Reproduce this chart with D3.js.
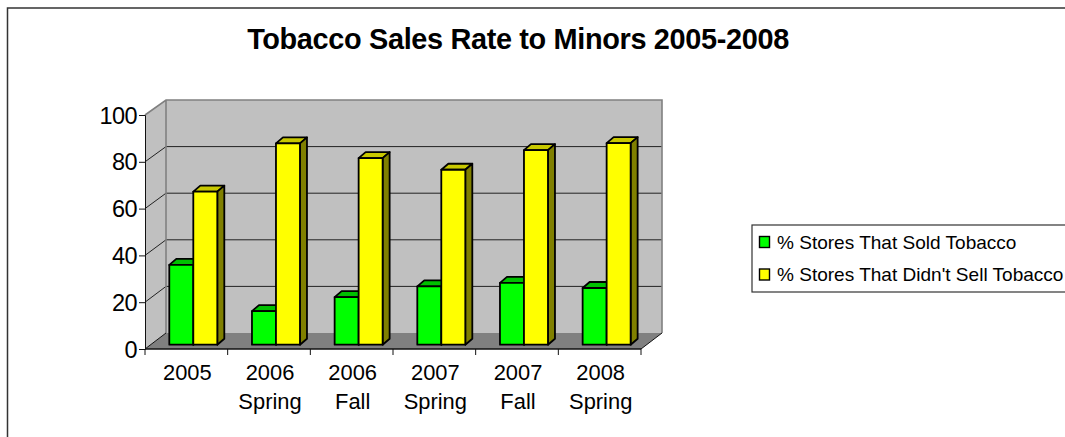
<!DOCTYPE html>
<html>
<head>
<meta charset="utf-8">
<script src="https://cdn.jsdelivr.net/npm/d3@7"></script>
<style>
  html, body { margin: 0; padding: 0; background: #fff; overflow: hidden; }
  text { font-family: "Liberation Sans", Arial, sans-serif; fill: #000; }
</style>
</head>
<body>
<div id="chart"></div>
<script>
var categories = ['2005', '2006 Spring', '2006 Fall', '2007 Spring', '2007 Fall', '2008 Spring'];
var soldValues = [34.2, 14.4, 20.4, 25, 26.5, 24.3];
var notSoldValues = [65.6, 86.3, 80, 75, 83.4, 86.4];
var yTicks = [0, 20, 40, 60, 80, 100];
var seriesNames = ['% Stores That Sold Tobacco', "% Stores That Didn't Sell Tobacco"];
var seriesKeys = ['sold', 'notSold'];

var colors = {
    sold: {front: '#00ff00', top: '#00c000', side: '#008000'},
    notSold: {front: '#ffff00', top: '#c8c800', side: '#808000'}
};

var width = 1065, height = 437;
var svg = d3.select('#chart').append('svg')
    .attr('width', width)
    .attr('height', height)
    .style('display', 'block');

// frame, only top and left are visible in the crop
svg.append('path')
    .attr('d', 'M7.5,' + height + 'V8H' + width)
    .attr('fill', 'none')
    .attr('stroke', '#333')
    .attr('stroke-width', 1.5);

svg.append('text')
    .attr('x', 518)
    .attr('y', 49)
    .attr('text-anchor', 'middle')
    .attr('font-size', 28.9)
    .attr('font-weight', 'bold')
    .attr('letter-spacing', -0.35)
    .text('Tobacco Sales Rate to Minors 2005-2008');

// front plane scales, the wall sits behind by depthX / depthY
var left = 145, right = 641;
var depthX = 21, depthY = 16;
var y = d3.scaleLinear().domain([0, 100]).range([349, 115]);
var yWall = d3.scaleLinear().domain([0, 100]).range([333, 100]);
var yBar = d3.scaleLinear().domain([0, 100]).range([344.7, 111.4]);
var x = d3.scaleBand().domain(categories).range([left, right]);
var xSeries = d3.scaleBand().domain(seriesKeys).range([24.3, 72.3]);
var barDepthX = 7, barDepthY = 6;

var floorY = y(0), wallY = yWall(0), wallTop = yWall(100);

// left wall
svg.append('polygon')
    .attr('points', [[left, floorY], [left + depthX, wallY], [left + depthX, wallTop], [left, y(100)]].join(' '))
    .attr('fill', '#c0c0c0');
// back wall
svg.append('rect')
    .attr('x', left + depthX)
    .attr('y', wallTop)
    .attr('width', right - left)
    .attr('height', wallY - wallTop)
    .attr('fill', '#c0c0c0');
// floor
svg.append('polygon')
    .attr('points', [[left, floorY], [left + depthX, wallY], [right + depthX, wallY], [right, floorY]].join(' '))
    .attr('fill', '#808080');

// gridlines
var grid = svg.append('g').attr('stroke', '#222').attr('stroke-width', 1).attr('fill', 'none');
grid.selectAll('path')
    .data(yTicks.filter(d => d > 0 && d < 100))
    .enter().append('path')
    .attr('d', d => `M${left},${y(d)}L${left + depthX},${yWall(d)}H${right + depthX}`);

// wall outline
svg.append('path')
    .attr('d', `M${left},${y(100)}L${left + depthX},${wallTop}H${right + depthX}V${wallY}M${left + depthX},${wallTop}V${wallY}`)
    .attr('fill', 'none')
    .attr('stroke', '#808080')
    .attr('stroke-width', 1.6);

// floor edge
svg.append('path')
    .attr('d', `M${left},${floorY}L${left + depthX},${wallY}M${right},${floorY}L${right + depthX},${wallY}`)
    .attr('fill', 'none')
    .attr('stroke', '#111')
    .attr('stroke-width', 1);

// bars
var rows = categories.map((c, i) => ({category: c, sold: soldValues[i], notSold: notSoldValues[i]}));
var groups = svg.selectAll('g.cat')
    .data(rows)
    .enter().append('g')
    .attr('class', 'cat')
    .attr('transform', d => `translate(${x(d.category)},0)`);

seriesKeys.forEach(function(key){
    var bar = groups.append('g')
        .attr('stroke', '#000')
        .attr('stroke-width', 1.8)
        .attr('stroke-linejoin', 'round');
    var x0 = xSeries(key), w = xSeries.bandwidth();
    var base = yBar(0);

    bar.append('path')
        .attr('fill', colors[key].top)
        .attr('d', d => `M${x0},${yBar(d[key])}l${barDepthX},${-barDepthY}h${w}l${-barDepthX},${barDepthY}Z`);
    bar.append('path')
        .attr('fill', colors[key].side)
        .attr('d', d => `M${x0 + w},${yBar(d[key])}l${barDepthX},${-barDepthY}V${base - barDepthY}l${-barDepthX},${barDepthY}Z`);
    bar.append('rect')
        .attr('fill', colors[key].front)
        .attr('x', x0)
        .attr('y', d => yBar(d[key]))
        .attr('width', w)
        .attr('height', d => base - yBar(d[key]));
});

// y axis
var yAxis = svg.append('g')
    .attr('transform', `translate(${left},0)`)
    .call(d3.axisLeft(y).tickValues(yTicks).tickSize(6).tickPadding(2));
yAxis.select('.domain').attr('stroke', '#111').attr('stroke-width', 1);
yAxis.selectAll('text').attr('font-size', 23.5).attr('dy', '0.34em').attr('letter-spacing', -0.6);
yAxis.selectAll('line').attr('stroke', '#111');

// x axis, ticks on the category boundaries
var xAxis = svg.append('g')
    .attr('transform', `translate(0,${floorY})`)
    .call(d3.axisBottom(x).tickSize(0).tickFormat(''));
xAxis.select('.domain').remove();
xAxis.append('line')
    .attr('x1', left).attr('x2', right)
    .attr('stroke', '#111').attr('stroke-width', 1.4);
xAxis.selectAll('line.boundary')
    .data(categories.concat(['end']))
    .enter().append('line')
    .attr('class', 'boundary')
    .attr('x1', (d, i) => left + i * x.step())
    .attr('x2', (d, i) => left + i * x.step())
    .attr('y2', 6)
    .attr('stroke', '#111');

var labels = svg.selectAll('text.cat-label')
    .data(categories)
    .enter().append('text')
    .attr('class', 'cat-label')
    .attr('text-anchor', 'middle')
    .attr('font-size', 21.9)
    .attr('transform', d => `translate(${x(d) + x.bandwidth() / 2 + 1},380)`);
labels.selectAll('tspan')
    .data(d => d.split(' '))
    .enter().append('tspan')
    .attr('x', 0)
    .attr('y', (d, i) => i * 28.5)
    .text(d => d);

// legend
var legend = svg.append('g');
legend.append('rect')
    .attr('x', 752).attr('y', 225)
    .attr('width', 340).attr('height', 67)
    .attr('fill', '#fff')
    .attr('stroke', '#333').attr('stroke-width', 1.2);
var items = legend.selectAll('g.item')
    .data(seriesNames)
    .enter().append('g')
    .attr('class', 'item')
    .attr('transform', (d, i) => `translate(0,${242 + i * 32.5})`);
items.append('rect')
    .attr('x', 759.5).attr('y', -5.5)
    .attr('width', 10).attr('height', 11)
    .attr('fill', (d, i) => colors[seriesKeys[i]].front)
    .attr('stroke', '#000').attr('stroke-width', 1.4);
items.append('text')
    .attr('x', 777)
    .attr('y', 6.5)
    .attr('font-size', 19.05)
    .text(d => d);
</script>
</body>
</html>
